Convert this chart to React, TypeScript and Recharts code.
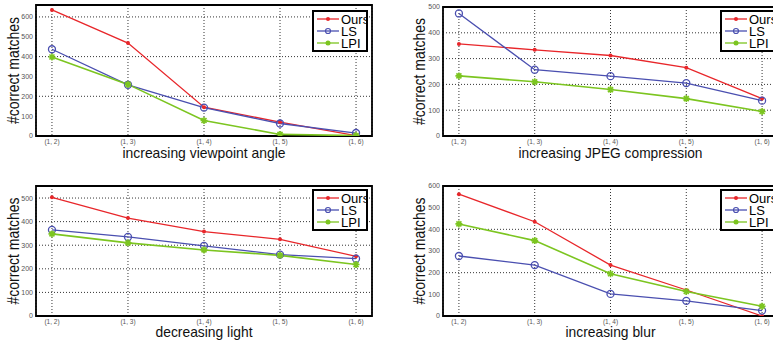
import React from 'react';
import {
  LineChart,
  Line,
  XAxis,
  YAxis,
  CartesianGrid,
  ReferenceArea,
} from 'recharts';

// x positions: pair (1, n)
const steps = [2, 3, 4, 5, 6];

// viewpoint angle
const viewOurs = [635, 468, 145, 70, 2];
const viewLS = [437, 258, 143, 63, 15];
const viewLPI = [398, 260, 78, 8, 2];

// JPEG compression
const jpegOurs = [357, 334, 312, 265, 145];
const jpegLS = [475, 257, 232, 205, 137];
const jpegLPI = [233, 210, 180, 145, 95];

// light
const lightOurs = [503, 415, 358, 325, 253];
const lightLS = [365, 335, 297, 260, 243];
const lightLPI = [348, 310, 280, 257, 218];

// blur
const blurOurs = [562, 435, 235, 120, 0];
const blurLS = [277, 235, 102, 70, 25];
const blurLPI = [425, 348, 195, 113, 45];

const seriesNames = ['Ours', 'LS', 'LPI'];

const RED = '#e8262a';
const BLUE = '#4a4fb0';
const GREEN = '#7cc520';
const FONT = '"Liberation Sans", Arial, sans-serif';

const toRows = (ours: number[], ls: number[], lpi: number[]) =>
  steps.map((s, i) => ({ step: s, ours: ours[i], ls: ls[i], lpi: lpi[i] }));

const RedDot = (p: any) => <circle key={p.index} cx={p.cx} cy={p.cy} r={2} fill={RED} />;
const BlueDot = (p: any) => (
  <circle key={p.index} cx={p.cx} cy={p.cy} r={3.5} fill="none" stroke={BLUE} strokeWidth={1.3} />
);
const GreenDot = (p: any) => (
  <path
    key={p.index}
    d={`M${p.cx - 3.5},${p.cy}h7M${p.cx},${p.cy - 3.5}v7M${p.cx - 2.5},${p.cy - 2.5}l5,5M${p.cx + 2.5},${p.cy - 2.5}l-5,5`}
    stroke={GREEN}
    strokeWidth={1.6}
  />
);

// legend drawn as an overlay so it takes no room from the plot
const LegendBox = ({ left, top }: { left: number; top: number }) => {
  const colors = [RED, BLUE, GREEN];
  return (
    <svg width={56} height={42} style={{ position: 'absolute', left, top }}>
      <rect x={1} y={1} width={54} height={40} fill="#fff" stroke="#000" strokeWidth={2} />
      {seriesNames.map((name, i) => {
        const y = 9 + i * 12;
        return (
          <g key={name}>
            <line x1={5} x2={27} y1={y} y2={y} stroke={colors[i]} strokeWidth={1.3} />
            {i === 0 && <circle cx={16} cy={y} r={2} fill={RED} />}
            {i === 1 && <circle cx={16} cy={y} r={2.5} fill="none" stroke={BLUE} strokeWidth={1.2} />}
            {i === 2 && <circle cx={16} cy={y} r={2.5} fill={GREEN} />}
            <text x={29} y={y + 4.5} fontSize={13} fontFamily={FONT} fill="#000">
              {name}
            </text>
          </g>
        );
      })}
    </svg>
  );
};

interface PanelProps {
  left: number;
  top: number;
  width: number;
  height: number;
  margin: { top: number; right: number; left: number; bottom: number };
  xAxisHeight: number;
  yMax: number;
  yTicks: number[];
  rows: any[];
  title: string;
  titleWidth: number;
  titleDy: number;
  yLabelX: number;
  legendPos: { left: number; top: number };
}

function Panel(p: PanelProps) {
  return (
    <div style={{ position: 'absolute', left: p.left, top: p.top, width: p.width, height: p.height }}>
      <LineChart width={p.width} height={p.height} data={p.rows} margin={p.margin}>
        <CartesianGrid stroke="#000" strokeDasharray="1 2" strokeWidth={0.8} />
        <XAxis
          dataKey="step"
          type="number"
          domain={[1.79, 6.21]}
          ticks={steps}
          allowDataOverflow
          height={p.xAxisHeight}
          tickFormatter={(v: number) => `(1, ${v})`}
          tick={{ fontSize: 6.5, fill: '#555', fontFamily: FONT }}
          tickLine={false}
          tickSize={2}
          axisLine={false}
          tickMargin={1}
          label={(lp: any) => {
            const vb = lp.viewBox;
            return (
              <text
                x={vb.x + vb.width / 2}
                y={vb.y + p.titleDy}
                textAnchor="middle"
                fontSize={14.5}
                fontFamily={FONT}
                fill="#111"
                textLength={p.titleWidth}
                lengthAdjust="spacingAndGlyphs"
              >
                {p.title}
              </text>
            );
          }}
        />
        <YAxis
          type="number"
          domain={[0, p.yMax]}
          ticks={p.yTicks}
          allowDataOverflow
          width={36}
          tick={{ fontSize: 7, fill: '#555', fontFamily: FONT }}
          tickLine={false}
          tickSize={2}
          axisLine={false}
          tickMargin={1}
          label={(lp: any) => {
            const vb = lp.viewBox;
            const cy = vb.y + vb.height / 2;
            return (
              <text
                x={p.yLabelX}
                y={cy}
                transform={`rotate(-90 ${p.yLabelX} ${cy})`}
                textAnchor="middle"
                fontSize={16}
                fontFamily={FONT}
                fill="#111"
                textLength={107}
                lengthAdjust="spacingAndGlyphs"
              >
                #correct matches
              </text>
            );
          }}
        />
        <ReferenceArea
          x1={1.79}
          x2={6.21}
          y1={0}
          y2={p.yMax}
          fill="none"
          fillOpacity={0}
          stroke="#000"
          strokeWidth={1.8}
          ifOverflow="visible"
        />
        <Line dataKey="ours" stroke={RED} strokeWidth={1.3} dot={RedDot} isAnimationActive={false} />
        <Line dataKey="ls" stroke={BLUE} strokeWidth={1.3} dot={BlueDot} isAnimationActive={false} />
        <Line dataKey="lpi" stroke={GREEN} strokeWidth={1.6} dot={GreenDot} isAnimationActive={false} />
      </LineChart>
      <LegendBox left={p.legendPos.left} top={p.legendPos.top} />
    </div>
  );
}

export default function App() {
  return (
    <div
      style={{
        position: 'absolute',
        left: 0,
        top: 0,
        width: 773,
        height: 344,
        overflow: 'hidden',
        background: '#fff',
      }}
    >
      <Panel
        left={0}
        top={0}
        width={386}
        height={172}
        margin={{ top: 5, right: 14, left: 0, bottom: 0 }}
        xAxisHeight={36}
        yMax={660}
        yTicks={[0, 100, 200, 300, 400, 500, 600]}
        rows={toRows(viewOurs, viewLS, viewLPI)}
        title="increasing viewpoint angle"
        titleWidth={163}
        titleDy={22}
        yLabelX={19}
        legendPos={{ left: 312, top: 10 }}
      />
      <Panel
        left={385}
        top={0}
        width={400}
        height={172}
        margin={{ top: 7, right: 7, left: 22, bottom: 0 }}
        xAxisHeight={36}
        yMax={500}
        yTicks={[0, 100, 200, 300, 400, 500]}
        rows={toRows(jpegOurs, jpegLS, jpegLPI)}
        title="increasing JPEG compression"
        titleWidth={184}
        titleDy={22}
        yLabelX={40}
        legendPos={{ left: 335, top: 10 }}
      />
      <Panel
        left={0}
        top={172}
        width={386}
        height={172}
        margin={{ top: 14, right: 14, left: 0, bottom: 0 }}
        xAxisHeight={28}
        yMax={551}
        yTicks={[0, 100, 200, 300, 400, 500]}
        rows={toRows(lightOurs, lightLS, lightLPI)}
        title="decreasing light"
        titleWidth={97}
        titleDy={21}
        yLabelX={19}
        legendPos={{ left: 312, top: 17 }}
      />
      <Panel
        left={385}
        top={172}
        width={400}
        height={172}
        margin={{ top: 14, right: 7, left: 22, bottom: 0 }}
        xAxisHeight={28}
        yMax={600}
        yTicks={[0, 100, 200, 300, 400, 500, 600]}
        rows={toRows(blurOurs, blurLS, blurLPI)}
        title="increasing blur"
        titleWidth={90}
        titleDy={21}
        yLabelX={40}
        legendPos={{ left: 335, top: 17 }}
      />
    </div>
  );
}
